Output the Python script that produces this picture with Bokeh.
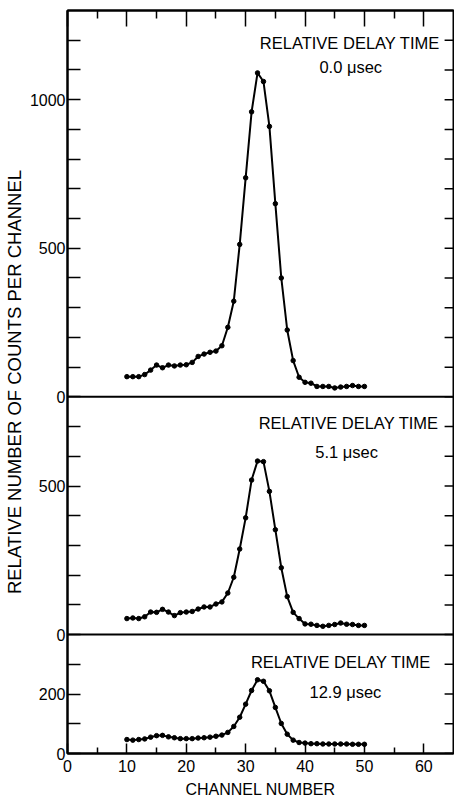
from bokeh.plotting import figure
from bokeh.models import (FixedTicker, LinearAxis, Range1d, Span, Label,
                          ColumnDataSource, CustomLabelingPolicy)
from bokeh.embed import file_html
from bokeh.resources import INLINE

# ---------------- data ----------------
channels = list(range(10, 51))

counts_0_0 = [68, 68, 68, 75, 90, 107, 98, 107, 104, 107, 108, 116, 136, 144,
              150, 154, 172, 234, 322, 513, 737, 959, 1090, 1061, 910, 650,
              400, 225, 122, 66, 49, 46, 35, 35, 35, 30, 33, 35, 38, 35, 35]

counts_5_1 = [54, 56, 54, 60, 76, 75, 85, 76, 64, 74, 76, 78, 86, 93, 93, 103,
              110, 140, 193, 288, 393, 520, 584, 582, 482, 353, 225, 128, 75,
              54, 36, 35, 31, 28, 31, 34, 39, 35, 34, 31, 31]

counts_12_9 = [47, 45, 47, 49, 55, 60, 61, 56, 53, 50, 50, 50, 52, 53, 55, 58,
               62, 71, 91, 122, 166, 212, 248, 243, 211, 155, 101, 65, 45, 37,
               35, 33, 33, 32, 32, 32, 32, 32, 31, 31, 31]

delay_labels = ["0.0 \u03bcsec", "5.1 \u03bcsec", "12.9 \u03bcsec"]
panel_title = "RELATIVE DELAY TIME"

x_major = [0, 10, 20, 30, 40, 50, 60]
x_minor = [5, 15, 25, 35, 45, 55]

# panel heights (counts) stacked bottom -> top
panel_heights = [400, 800, 1300]          # 12.9, 5.1, 0.0 usec panels
labelled_ticks = [[0, 200], [0, 500], [0, 500, 1000]]

# ---------------- layout ----------------
offsets = [0, panel_heights[0], panel_heights[0] + panel_heights[1]]
ytop = sum(panel_heights)
XMAX = 65

FONT = "Liberation Sans"
INK = "black"

p = figure(width=454, height=800, output_backend="svg", toolbar_location=None,
           x_range=Range1d(0, XMAX), y_range=Range1d(0, ytop),
           min_border_left=62, min_border_right=1, min_border_top=10,
           min_border_bottom=0)
p.background_fill_color = "white"
p.border_fill_color = "white"
p.grid.visible = False
p.outline_line_color = INK
p.outline_line_width = 2

# y ticks
major_y, minor_y, overrides = [], [], {}
for off, h, labs in zip(offsets, panel_heights, labelled_ticks):
    for v in range(0, h, 100):
        if v in labs:
            major_y.append(off + v)
            overrides[off + v] = str(v)
        else:
            minor_y.append(off + v)

# bottom x axis
xa = p.xaxis[0]
xa.ticker = FixedTicker(ticks=x_major, minor_ticks=x_minor)
xa.axis_label = "CHANNEL NUMBER"
xa.axis_label_text_font = FONT
xa.axis_label_text_font_style = "normal"
xa.axis_label_text_font_size = "16px"
xa.axis_label_text_color = INK
xa.axis_label_standoff = 6
xa.major_label_text_font = FONT
xa.major_label_text_font_size = "16px"
xa.major_label_text_color = INK
xa.major_label_standoff = 6
xa.major_tick_in = 10
xa.major_tick_out = 0
xa.minor_tick_in = 6
xa.minor_tick_out = 0
xa.axis_line_width = 2
xa.axis_line_color = INK
xa.major_tick_line_width = 1.5
xa.minor_tick_line_width = 1.5

# left y axis
ya = p.yaxis[0]
ya.ticker = FixedTicker(ticks=major_y, minor_ticks=minor_y)
ya.major_label_overrides = overrides
ya.axis_label = "RELATIVE NUMBER OF COUNTS PER CHANNEL"
ya.axis_label_text_font = FONT
ya.axis_label_text_font_style = "normal"
ya.axis_label_text_font_size = "18.5px"
ya.axis_label_text_color = INK
ya.axis_label_standoff = 2
ya.major_label_text_font = FONT
ya.major_label_text_font_size = "16px"
ya.major_label_text_color = INK
ya.major_label_standoff = 2
ya.major_tick_in = 13
ya.major_tick_out = 0
ya.minor_tick_in = 13
ya.minor_tick_out = 0
ya.axis_line_width = 2
ya.axis_line_color = INK
ya.major_tick_line_width = 1.5
ya.minor_tick_line_width = 1.5

no_labels = CustomLabelingPolicy(code="""
for (const i of Array.from(indices)) { indices.unset(i) }
return indices
""")

# top axis (ticks only)
top = LinearAxis(ticker=FixedTicker(ticks=x_major, minor_ticks=x_minor),
                 major_label_policy=no_labels, major_label_standoff=0,
                 major_label_text_font_size="1px",
                 major_tick_in=16, major_tick_out=0,
                 minor_tick_in=8, minor_tick_out=0,
                 axis_line_width=2, major_tick_line_width=1.5,
                 minor_tick_line_width=1.5)
p.add_layout(top, "above")

# right-hand inward ticks (every 100 counts in each panel)
right_ticks = sorted(major_y + minor_y)
tick_len = 1.5   # in channel units
p.segment(x0=[XMAX] * len(right_ticks), y0=right_ticks,
          x1=[XMAX - tick_len] * len(right_ticks), y1=right_ticks,
          line_color=INK, line_width=1.5)

# panel separators
for off in offsets[1:]:
    p.add_layout(Span(location=off, dimension="width", line_color=INK,
                      line_width=2))

series = [counts_12_9, counts_5_1, counts_0_0]
for off, vals in zip(offsets, series):
    src = ColumnDataSource(dict(x=channels, y=[v + off for v in vals]))
    p.line("x", "y", source=src, line_color=INK, line_width=2)
    p.scatter("x", "y", source=src, size=4.5, color=INK)

# panel annotations (x in channel units, y in counts within each panel)
title_pos = [(61.2, 309), (62.5, 711), (62.7, 1189)]
delay_pos = [(46.8, 208), (47.0, 613), (47.7, 1109)]
for off, (tx, ty), (dx, dy), dl in zip(offsets, title_pos, delay_pos,
                                       delay_labels[::-1]):
    p.add_layout(Label(x=tx, y=ty + off, text=panel_title, text_align="right",
                       text_baseline="middle", text_font=FONT,
                       text_font_size="16.5px", text_color=INK))
    p.add_layout(Label(x=dx, y=dy + off, text=dl, text_align="center",
                       text_baseline="middle", text_font=FONT,
                       text_font_size="16.5px", text_color=INK))

open("out.html", "w").write(file_html(p, INLINE))
